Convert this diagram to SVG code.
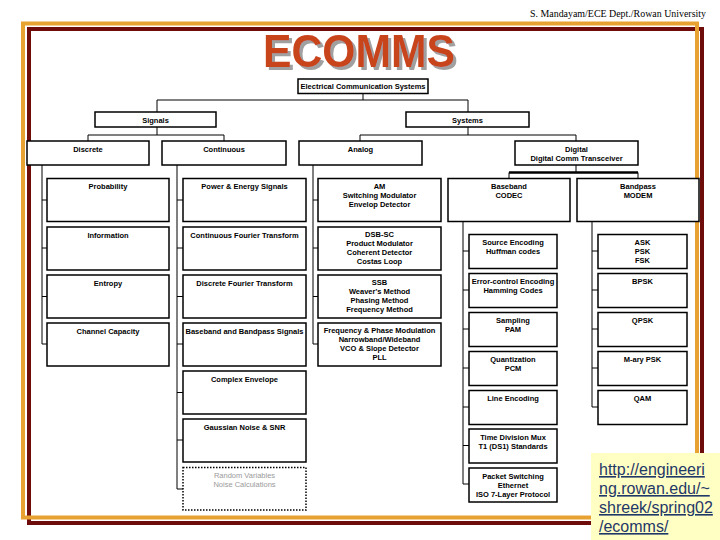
<svg xmlns="http://www.w3.org/2000/svg" width="720" height="540" viewBox="0 0 720 540">
<defs>
<filter id="sh" x="-10%" y="-20%" width="130%" height="150%">
<feOffset in="SourceAlpha" dx="3" dy="3" result="o"/>
<feFlood flood-color="#a0a0a0"/>
<feComposite in2="o" operator="in" result="s"/>
<feMerge><feMergeNode in="s"/><feMergeNode in="SourceGraphic"/></feMerge>
</filter>
</defs>
<style>
.b{fill:#fff;stroke:#000;stroke-width:1.5}
.d{fill:#fff;stroke:#000;stroke-width:1.5;stroke-dasharray:1.5 1.5}
.t{font-family:"Liberation Sans",Arial,sans-serif;font-size:7.5px;font-weight:bold;text-anchor:middle;fill:#000}
.g{fill:#9a9a9a;font-weight:normal}
.c{fill:none;stroke:#000;stroke-width:1}
</style>
<rect width="720" height="540" fill="#fff"/>
<text x="706" y="17" font-family="Liberation Serif,Times New Roman,serif" font-size="10.5" text-anchor="end" textLength="176" lengthAdjust="spacingAndGlyphs">S. Mandayam/ECE Dept./Rowan University</text>
<rect x="29" y="29" width="673" height="494" fill="none" stroke="#6e0c0c" stroke-width="4"/>
<rect x="23" y="23.5" width="674" height="494" fill="none" stroke="#e8a232" stroke-width="4"/>
<g id="title">
<text x="359" y="67" font-family="Liberation Sans,Arial,sans-serif" font-size="47" font-weight="bold" text-anchor="middle" fill="#c8441e" textLength="192" lengthAdjust="spacingAndGlyphs" filter="url(#sh)">ECOMMS</text>
</g>
<g id="connectors">
<path class="c" d="M363 93V100M157 100H468M157 100V112M468 100V112"/>
<path class="c" d="M157 127V135M88 135H224M88 135V141M224 135V141"/>
<path class="c" d="M468 127V135M360 135H576M360 135V141M576 135V141"/>
<path class="c" d="M42 165V344M42 200H47M42 248H47M42 296.5H47M42 344H47"/>
<path class="c" d="M177 165V489M177 200H183M177 248H183M177 296.5H183M177 344H183M177 392.5H183M177 440H183M177 489H183"/>
<path class="c" d="M313 165V344M313 200H318M313 248H318M313 296.5H318M313 344H318"/>
<path class="c" d="M576 165V172.5M509 172.5V178.5M638 172.5V178.5"/>
<path d="M509 172.5H638" stroke="#000" stroke-width="2.5"/>
<path class="c" d="M463 221.5V484M463 251H469M463 290H469M463 329H469M463 368H469M463 407H469M463 445.5H469M463 484H469"/>
<path class="c" d="M592 221.5V407M592 251H598M592 290H598M592 329H598M592 368H598M592 407H598"/>
</g>
<g id="ecs"><rect class="b" x="298" y="79" width="130" height="14.5"/><text class="t" x="363" y="89">Electrical Communication Systems</text></g>
<g id="signals"><rect class="b" x="95" y="112" width="121" height="15"/><text class="t" x="155.5" y="122.5">Signals</text></g>
<g id="systems"><rect class="b" x="406" y="112" width="123" height="15"/><text class="t" x="467.5" y="122.5">Systems</text></g>
<g id="discrete"><rect class="b" x="27" y="141" width="122" height="24"/><text class="t" x="88" y="151.5">Discrete</text></g>
<g id="continuous"><rect class="b" x="162" y="141" width="124" height="24"/><text class="t" x="224" y="151.5">Continuous</text></g>
<g id="analog"><rect class="b" x="299" y="141" width="123" height="24"/><text class="t" x="360.5" y="151.5">Analog</text></g>
<g id="digital"><rect class="b" x="515" y="141" width="123" height="24"/><text class="t" x="576.5" y="151.5">Digital</text><text class="t" x="576.5" y="160.5">Digital Comm Transceiver</text></g>

<g id="probability"><rect class="b" x="47" y="178.5" width="122" height="43"/><text class="t" x="108" y="189">Probability</text></g>
<g id="information"><rect class="b" x="47" y="227" width="122" height="43"/><text class="t" x="108" y="237.5">Information</text></g>
<g id="entropy"><rect class="b" x="47" y="275" width="122" height="43"/><text class="t" x="108" y="285.5">Entropy</text></g>
<g id="channel"><rect class="b" x="47" y="323" width="122" height="43"/><text class="t" x="108" y="333.5">Channel Capacity</text></g>

<g id="power"><rect class="b" x="183" y="178.5" width="123" height="43"/><text class="t" x="244.5" y="189">Power &amp; Energy Signals</text></g>
<g id="cft"><rect class="b" x="183" y="227" width="123" height="43"/><text class="t" x="244.5" y="237.5">Continuous Fourier Transform</text></g>
<g id="dft"><rect class="b" x="183" y="275" width="123" height="43"/><text class="t" x="244.5" y="285.5">Discrete Fourier Transform</text></g>
<g id="bbsig"><rect class="b" x="183" y="323" width="123" height="43"/><text class="t" x="244.5" y="333.5">Baseband and Bandpass Signals</text></g>
<g id="complex"><rect class="b" x="183" y="371" width="123" height="43"/><text class="t" x="244.5" y="381.5">Complex Envelope</text></g>
<g id="gaussian"><rect class="b" x="183" y="419" width="123" height="43"/><text class="t" x="244.5" y="429.5">Gaussian Noise &amp; SNR</text></g>
<g id="random"><rect class="d" x="183" y="467.5" width="123" height="42.5"/><text class="t g" x="244.5" y="478">Random Variables</text><text class="t g" x="244.5" y="487">Noise Calculations</text></g>

<g id="am"><rect class="b" x="318" y="178.5" width="123" height="43"/><text class="t" x="379.5" y="189">AM</text><text class="t" x="379.5" y="198">Switching Modulator</text><text class="t" x="379.5" y="207">Envelop Detector</text></g>
<g id="dsb"><rect class="b" x="318" y="227" width="123" height="43"/><text class="t" x="379.5" y="236.5">DSB-SC</text><text class="t" x="379.5" y="245.5">Product Modulator</text><text class="t" x="379.5" y="254.5">Coherent Detector</text><text class="t" x="379.5" y="263.5">Costas Loop</text></g>
<g id="ssb"><rect class="b" x="318" y="275" width="123" height="43"/><text class="t" x="379.5" y="284.5">SSB</text><text class="t" x="379.5" y="293.5">Weaver's Method</text><text class="t" x="379.5" y="302.5">Phasing Method</text><text class="t" x="379.5" y="311.5">Frequency Method</text></g>
<g id="fm"><rect class="b" x="318" y="323" width="123" height="43"/><text class="t" x="379.5" y="332.5">Frequency &amp; Phase Modulation</text><text class="t" x="379.5" y="341.5">Narrowband/Wideband</text><text class="t" x="379.5" y="350.5">VCO &amp; Slope Detector</text><text class="t" x="379.5" y="359.5">PLL</text></g>

<g id="baseband"><rect class="b" x="448" y="178.5" width="122" height="43"/><text class="t" x="509" y="189">Baseband</text><text class="t" x="509" y="198">CODEC</text></g>
<g id="bandpass"><rect class="b" x="577" y="178.5" width="122" height="43"/><text class="t" x="638" y="189">Bandpass</text><text class="t" x="638" y="198">MODEM</text></g>

<g id="source"><rect class="b" x="469" y="234.5" width="88" height="34"/><text class="t" x="513" y="245">Source Encoding</text><text class="t" x="513" y="254">Huffman codes</text></g>
<g id="error"><rect class="b" x="469" y="273.5" width="88" height="34"/><text class="t" x="513" y="284">Error-control Encoding</text><text class="t" x="513" y="293">Hamming Codes</text></g>
<g id="sampling"><rect class="b" x="469" y="312.5" width="88" height="34"/><text class="t" x="513" y="323">Sampling</text><text class="t" x="513" y="332">PAM</text></g>
<g id="quant"><rect class="b" x="469" y="351.5" width="88" height="34"/><text class="t" x="513" y="362">Quantization</text><text class="t" x="513" y="371">PCM</text></g>
<g id="line"><rect class="b" x="469" y="390.5" width="88" height="34"/><text class="t" x="513" y="401">Line Encoding</text></g>
<g id="tdm"><rect class="b" x="469" y="429" width="88" height="34"/><text class="t" x="513" y="439.5">Time Division Mux</text><text class="t" x="513" y="448.5">T1 (DS1) Standards</text></g>
<g id="packet"><rect class="b" x="469" y="468" width="88" height="34"/><text class="t" x="513" y="478.5">Packet Switching</text><text class="t" x="513" y="487.5">Ethernet</text><text class="t" x="513" y="496.5">ISO 7-Layer Protocol</text></g>

<g id="ask"><rect class="b" x="598" y="234.5" width="89" height="34"/><text class="t" x="642.5" y="245">ASK</text><text class="t" x="642.5" y="254">PSK</text><text class="t" x="642.5" y="263">FSK</text></g>
<g id="bpsk"><rect class="b" x="598" y="273.5" width="89" height="34"/><text class="t" x="642.5" y="284">BPSK</text></g>
<g id="qpsk"><rect class="b" x="598" y="312.5" width="89" height="34"/><text class="t" x="642.5" y="323">QPSK</text></g>
<g id="mary"><rect class="b" x="598" y="351.5" width="89" height="34"/><text class="t" x="642.5" y="362">M-ary PSK</text></g>
<g id="qam"><rect class="b" x="598" y="390.5" width="89" height="34"/><text class="t" x="642.5" y="401">QAM</text></g>

<g id="url">
<rect x="591" y="453" width="129" height="87" fill="#ffffc4"/>
<g font-family="Liberation Sans,Arial,sans-serif" font-size="16" fill="#1f3868" text-decoration="underline">
<text x="599" y="475">http://engineeri</text>
<text x="599" y="494">ng.rowan.edu/~</text>
<text x="599" y="513">shreek/spring02</text>
<text x="599" y="532">/ecomms/</text>
</g>
</g>
</svg>
